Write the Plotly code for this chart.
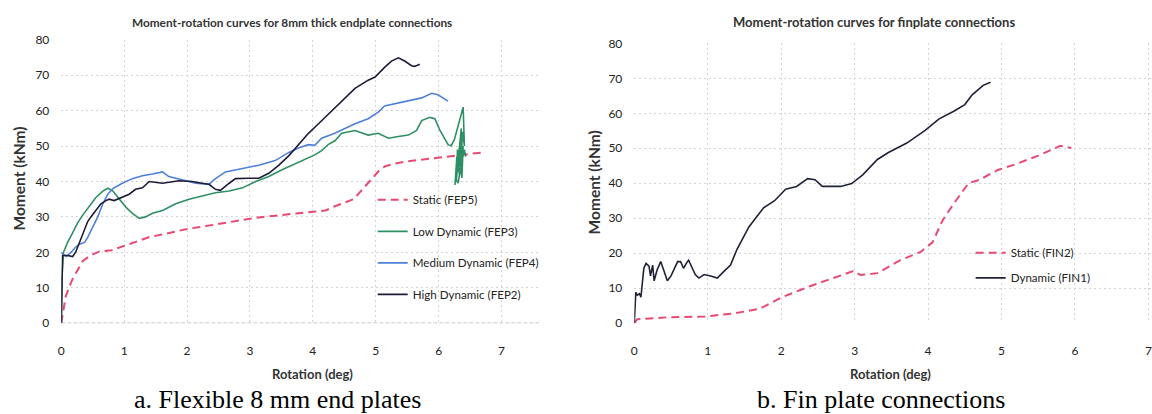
import plotly.graph_objects as go

# ---------------- Flexible 8 mm end plates ----------------
fep5_rot = [0, 0.02, 0.04, 0.07, 0.12, 0.18, 0.26, 0.34, 0.45, 0.6, 0.8, 1.0, 1.2, 1.4, 1.6, 1.8, 2.0,
            2.3, 2.6, 2.9, 3.2, 3.5, 3.8, 4.1, 4.2, 4.35, 4.5, 4.65, 4.75, 4.85, 4.95, 5.05, 5.15,
            5.3, 5.5, 5.8, 6.1, 6.4, 6.6, 6.75]
fep5_mom = [0, 2.5, 5, 7.5, 10, 12.5, 15, 17.5, 19, 20.2, 20.6, 21.8, 23.2, 24.3, 25, 25.8, 26.6,
            27.4, 28.4, 29.2, 30, 30.5, 31, 31.5, 31.8, 33, 34, 35, 37, 39, 41, 43, 44.3,
            45, 45.7, 46.3, 46.8, 47.4, 48, 48.3]

fep3_rot = [0, 0.01, 0.035, 0.1, 0.18, 0.26, 0.34, 0.45, 0.55, 0.66, 0.74, 0.82, 0.92, 1.03, 1.13,
            1.24, 1.34, 1.45, 1.61, 1.82, 2.03, 2.24, 2.45, 2.67, 2.88, 3.09, 3.3, 3.51, 3.72,
            3.93, 4.03, 4.14, 4.25, 4.35, 4.46, 4.67, 4.88, 5.04, 5.2, 5.36, 5.52, 5.65, 5.73,
            5.86, 5.94, 6.02, 6.1, 6.15, 6.2, 6.25, 6.33, 6.39, 6.41, 6.38, 6.35, 6.31, 6.27,
            6.26, 6.29, 6.33, 6.3, 6.28, 6.36, 6.34, 6.32, 6.37, 6.39, 6.35, 6.41, 6.43]
fep3_mom = [0, 12.8, 20, 22.8, 25.5, 28.3, 30.5, 33.2, 35.5, 37.3, 38.1, 37.3, 35, 32.7, 31,
            29.6, 30, 31, 31.8, 33.7, 35, 35.9, 36.8, 37.3, 38.2, 40, 41.4, 43.3, 45,
            46.8, 47.5, 48.7, 50.5, 51.5, 53.6, 54.4, 53.1, 53.6, 52.2, 52.7, 53.1, 54.4, 57.2,
            58.1, 57.7, 54.5, 51.8, 50.4, 50.1, 51.8, 57, 61, 50, 54, 44, 39.5, 41,
            39, 47, 42, 49, 40, 55, 45, 48, 41, 50, 44, 49, 47]

fep4_rot = [0, 0.08, 0.16, 0.23, 0.29, 0.37, 0.42, 0.5, 0.58, 0.66, 0.74, 0.82, 0.97, 1.13, 1.29,
            1.45, 1.61, 1.71, 1.93, 2.14, 2.35, 2.43, 2.61, 2.88, 3.14, 3.4, 3.62, 3.78, 3.93,
            4.03, 4.14, 4.35, 4.51, 4.67, 4.88, 5.04, 5.14, 5.36, 5.57, 5.73, 5.89, 5.99, 6.15]
fep4_mom = [19.9, 18.8, 20.1, 21.5, 22.3, 22.8, 24.2, 27.3, 30, 33.7, 36.4, 38, 39.5, 40.8, 41.6,
            42.1, 42.7, 41.4, 40.5, 39.5, 39.2, 40.5, 42.7, 43.6, 44.6, 45.9, 48.2, 49.5, 50.4,
            50.2, 52.2, 53.6, 55, 56.3, 57.7, 59.6, 61.3, 62.2, 63.1, 63.6, 64.9, 64.5, 62.7]

fep2_rot = [0, 0.01, 0.02, 0.1, 0.18, 0.23, 0.29, 0.34, 0.42, 0.47, 0.55, 0.63, 0.71, 0.76, 0.84,
            0.97, 1.08, 1.18, 1.29, 1.4, 1.61, 1.87, 2.08, 2.24, 2.35, 2.45, 2.53, 2.67, 2.77,
            2.98, 3.14, 3.3, 3.46, 3.62, 3.78, 3.93, 4.09, 4.25, 4.46, 4.67, 4.88, 4.99, 5.14,
            5.25, 5.36, 5.46, 5.57, 5.62, 5.7]
fep2_mom = [0, 18, 19.1, 19.1, 18.8, 20.1, 22.8, 25.5, 28.7, 30, 31.8, 33.7, 34.6, 35, 34.6,
            35.5, 36.4, 37.8, 38.2, 40, 39.5, 40.2, 40, 39.5, 39.2, 37.8, 37.5, 39.5, 40.8,
            40.9, 40.9, 42.3, 44.6, 47.3, 50.4, 53.6, 56.3, 59, 62.7, 66.3, 68.6, 69.5, 72.2,
            74, 74.9, 74, 72.7, 72.5, 73.1]

# ---------------- Fin plate connections ----------------
fin2_rot = [0, 0.04, 0.47, 0.96, 1.36, 1.71, 2.01, 2.41, 2.71, 2.98, 3.08, 3.31, 3.61, 3.9, 4.06,
            4.2, 4.35, 4.55, 4.7, 4.95, 5.2, 5.5, 5.8, 5.95]
fin2_mom = [0, 1.1, 1.7, 1.9, 2.8, 4.1, 7.4, 10.7, 12.9, 14.9, 13.8, 14.3, 17.9, 20.4, 23.1,
            29.5, 34.2, 40, 41, 43.8, 45.5, 47.9, 50.7, 50.1]

fin1_rot = [0, 0.02, 0.04, 0.07, 0.09, 0.13, 0.16, 0.2, 0.22, 0.25, 0.27, 0.31, 0.36, 0.4, 0.45,
            0.5, 0.54, 0.59, 0.63, 0.67, 0.72, 0.74, 0.79, 0.83, 0.88, 0.95, 1.04, 1.13, 1.22,
            1.31, 1.4, 1.47, 1.56, 1.76, 1.91, 2.06, 2.21, 2.36, 2.46, 2.56, 2.81, 2.96, 3.11,
            3.31, 3.46, 3.71, 3.96, 4.15, 4.35, 4.5, 4.6, 4.75, 4.85]
fin1_mom = [0, 8.8, 8, 8.4, 7.4, 15.7, 17.1, 16.3, 13.5, 16.6, 12.1, 15.2, 17.6, 14.9, 12.1,
            13.5, 15.2, 17.6, 17.6, 15.7, 17.5, 18, 15.7, 13.9, 12.9, 13.9, 13.5, 12.9, 14.8,
            16.6, 21.2, 24, 27.5, 33, 35, 38.3, 39.1, 41.3, 41, 39.1, 39.1, 39.9, 42.4,
            46.8, 48.8, 51.5, 55.1, 58.4, 60.6, 62.5, 65.3, 68, 68.9]

STATIC = "#E84A72"
LOW = "#2E8F64"
MEDIUM = "#4F80D8"
HIGH = "#1D1B38"
FIN_DYN = "#1F2238"

fig = go.Figure()

def add(x, y, name, color, xa, ya, legend, dash="solid", width=1.6):
    fig.add_trace(go.Scatter(
        x=x, y=y, name=name, mode="lines", xaxis=xa, yaxis=ya,
        line=dict(color=color, width=width, dash=dash),
        legend=legend, legendgroup=name, hoverinfo="skip"))

add(fep5_rot, fep5_mom, "Static (FEP5)", STATIC, "x", "y", "legend", dash="8px,5px", width=2)
add(fep3_rot, fep3_mom, "Low Dynamic (FEP3)", LOW, "x", "y", "legend")
add(fep4_rot, fep4_mom, "Medium Dynamic (FEP4)", MEDIUM, "x", "y", "legend")
add(fep2_rot, fep2_mom, "High Dynamic (FEP2)", HIGH, "x", "y", "legend")
add(fin2_rot, fin2_mom, "Static (FIN2)", STATIC, "x2", "y2", "legend2", dash="8px,5px", width=2)
add(fin1_rot, fin1_mom, "Dynamic (FIN1)", FIN_DYN, "x2", "y2", "legend2")

W, H = 1152, 414
tick_font = dict(family="Lato", size=12, color="#222222")
grid = dict(showgrid=True, gridcolor="#d4d4d4", gridwidth=1, griddash="2px,3px",
            zeroline=False, ticks="", tickfont=tick_font, showline=False,
            ticklabeloverflow="allow")

legend_font = dict(family="Lato", size=11.6, color="#222222")

fig.update_layout(
    width=W, height=H, margin=dict(l=0, r=0, t=0, b=0),
    paper_bgcolor="white", plot_bgcolor="white",
    showlegend=True,
    xaxis=dict(domain=[58.5 / W, 540 / W], range=[0, 7.63], dtick=1, tick0=0,
               anchor="y", ticklabelstandoff=19, **grid),
    yaxis=dict(domain=[87 / H, 381 / H], range=[0, 80], dtick=10, anchor="x",
               ticklabelstandoff=11, **grid),
    xaxis2=dict(domain=[633.5 / W, 1.0], range=[0, 7.035], dtick=1, tick0=0,
                anchor="y2", ticklabelstandoff=19, **grid),
    yaxis2=dict(domain=[87 / H, 377.3 / H], range=[0, 80], dtick=10, anchor="x2",
                ticklabelstandoff=11, **grid),
    legend=dict(x=371 / W, y=1 - 184 / H, xanchor="left", yanchor="top",
                traceorder="grouped", tracegroupgap=12.5, font=legend_font,
                bgcolor="rgba(0,0,0,0)"),
    legend2=dict(x=971 / W, y=1 - 239 / H, xanchor="left", yanchor="top",
                 traceorder="grouped", tracegroupgap=6, font=legend_font,
                 bgcolor="rgba(0,0,0,0)"),
)

# baseline at zero moment on the end-plate chart
fig.add_shape(type="line", xref="x", yref="y", x0=0, x1=7.63, y0=0, y1=0,
              line=dict(color="#9a9a9a", width=1, dash="4px,2px"))

def text(x, y, s, size, family="Lato", color="#333333", bold=True, angle=0):
    fig.add_annotation(x=x / W, y=1 - y / H, xref="paper", yref="paper",
                       text=f"<b>{s}</b>" if bold else s,
                       showarrow=False, xanchor="center", yanchor="middle", textangle=angle,
                       font=dict(family=family, size=size, color=color))

text(290, 15, "Moment-rotation curves for 8mm thick endplate connections", 11.8)
text(874, 15, "Moment-rotation curves for finplate connections", 13)
text(311, 380, "Rotation (deg)", 13)
text(891, 380, "Rotation (deg)", 13)
text(16, 177, "Moment (kNm)", 15.5, angle=-90)
text(594, 181, "Moment (kNm)", 15.5, angle=-90)
text(275, 406, "a. Flexible 8 mm end plates", 26, family="Liberation Serif", color="#000000", bold=False)
text(881, 406, "b. Fin plate connections", 26, family="Liberation Serif", color="#000000", bold=False)

fig.write_html("out.html")
